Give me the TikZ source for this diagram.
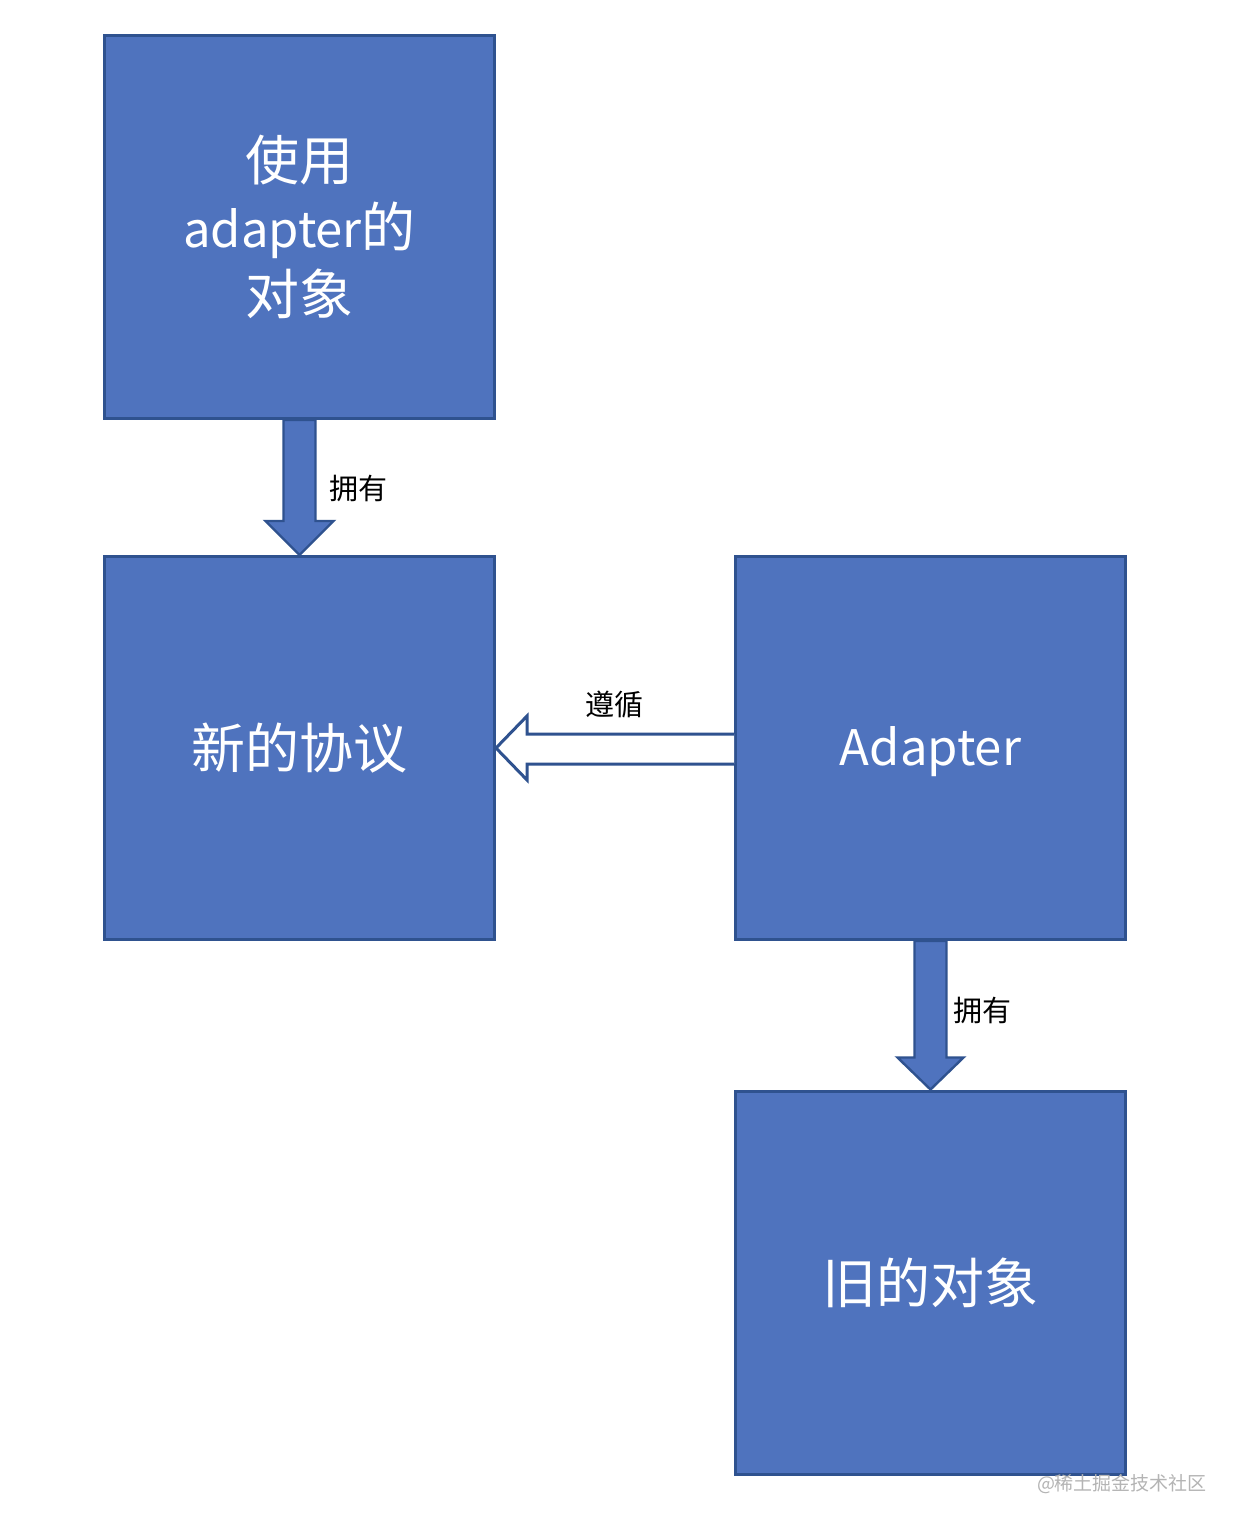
\documentclass[tikz,border=0pt]{standalone}
\usepackage{fontspec}
\setmainfont{Noto Sans CJK SC}
\usetikzlibrary{calc}
\definecolor{boxfill}{HTML}{4F73BE}
\definecolor{boxline}{HTML}{2F528F}
\definecolor{wmgray}{HTML}{B4B4B4}
\newcommand{\latinpart}[1]{{\fontsize{24.5}{33.5}\selectfont #1}}
\tikzset{
  blockbox/.style={draw=boxline, fill=boxfill, line width=1.5pt,
    minimum width=195pt, minimum height=191.5pt, inner sep=0pt,
    text=white, align=center, font=\fontsize{27}{33.5}\selectfont},
  blockarrow/.style={draw=boxline, fill=boxfill, line width=1.2pt, line join=miter},
  hollowarrow/.style={draw=boxline, fill=white, line width=1.5pt, line join=miter},
  lbl/.style={text=black, font=\fontsize{14.5}{17}\selectfont, inner sep=0pt},
  wm/.style={text=wmgray, font=\fontsize{9.5}{11}\selectfont, inner sep=0pt}
}
\begin{document}
\begin{tikzpicture}[x=0.5pt, y=-0.5pt]
  \useasboundingbox[fill=white] (0,0) rectangle (1240,1532);

  \node[blockbox] (user) at (299.5,227) {使用\\\latinpart{adapter}的\\对象};
  \node[blockbox] (proto) at (299.5,748) {新的协议};
  \node[blockbox] (adapter) at (930.5,748) {};
  \node[text=white, inner sep=0pt, font=\fontsize{24.5}{30}\selectfont] (adaptertext) at (930.5,752) {Adapter};
  \node[blockbox] (old) at (930.5,1282.5) {旧的对象};

  % owns arrow 1
  \draw[blockarrow]
    ($(user.south)+(-16,0)$) -- ($(user.south)+(16,0)$)
    -- ($(proto.north)+(16,-34)$) -- ($(proto.north)+(34,-34)$)
    -- (proto.north) -- ($(proto.north)+(-34,-34)$)
    -- ($(proto.north)+(-16,-34)$) -- cycle;
  \node[lbl] (own1) at (358,488) {拥有};

  % conforms arrow (hollow)
  \draw[hollowarrow]
    (adapter.west) ++(0,-14)
    -- ($(proto.east)+(31,-14)$) -- ($(proto.east)+(31,-32)$)
    -- (proto.east) -- ($(proto.east)+(31,32)$)
    -- ($(proto.east)+(31,16)$) -- ($(adapter.west)+(0,16)$);
  \node[lbl] (conf) at (614,705) {遵循};

  % owns arrow 2
  \draw[blockarrow]
    ($(adapter.south)+(-16,0)$) -- ($(adapter.south)+(16,0)$)
    -- ($(old.north)+(16,-32)$) -- ($(old.north)+(33,-32)$)
    -- (old.north) -- ($(old.north)+(-33,-32)$)
    -- ($(old.north)+(-16,-32)$) -- cycle;
  \node[lbl] (own2) at (982,1010) {拥有};

  \node[wm] (mark) at (1122,1484) {@稀土掘金技术社区};
\end{tikzpicture}
\end{document}
